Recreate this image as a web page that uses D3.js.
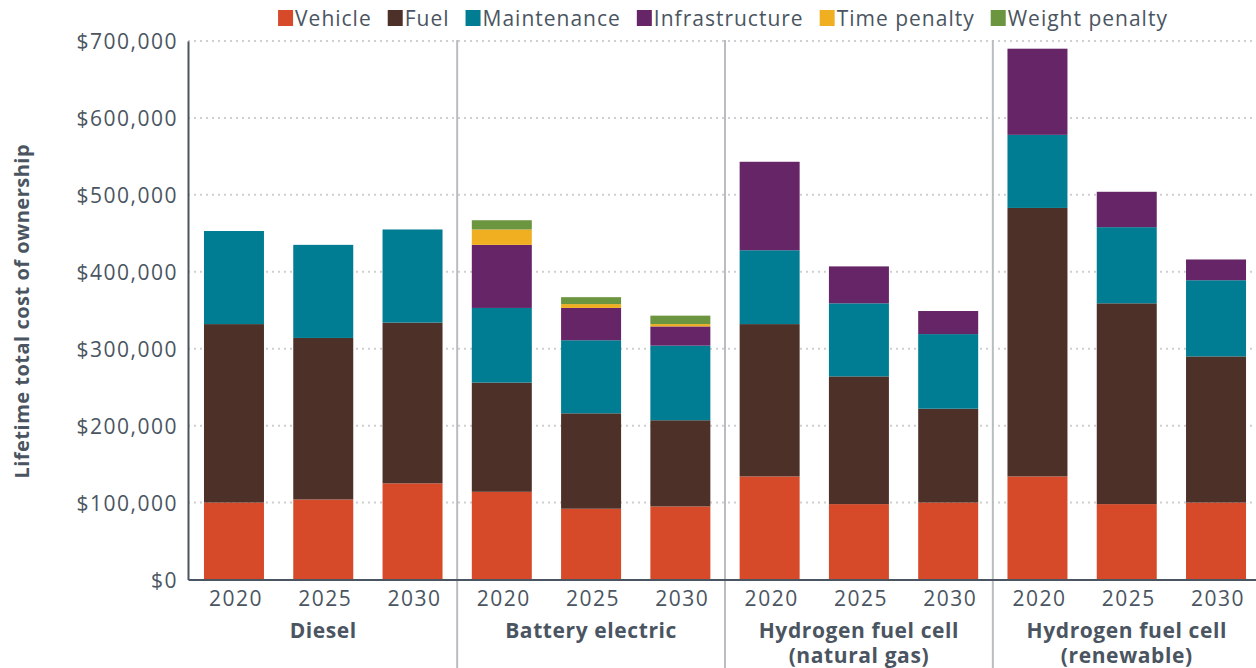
<!DOCTYPE html>
<html>
<head>
<meta charset="utf-8">
<script src="https://cdn.jsdelivr.net/npm/d3@7"></script>
<style>
  body { margin: 0; background: #fff; }
  svg text { font-family: "Open Sans", sans-serif; fill: #4a5561; }
  .tick-label { font-size: 21px; letter-spacing: 1.5px; }
  .cat-label { font-size: 21px; font-weight: 700; letter-spacing: 0.6px; }
  .legend text { font-size: 21px; letter-spacing: 1px; }
  .axis-title { font-size: 20px; font-weight: 700; letter-spacing: 0.5px; }
</style>
</head>
<body>
<svg id="tco-chart" width="1256" height="668"></svg>
<script>
//chart data (values in thousands of dollars)
var techs = ["Diesel", "Battery electric", "Hydrogen fuel cell\n(natural gas)", "Hydrogen fuel cell\n(renewable)"];
var years = ["2020", "2025", "2030"];
var components = ["Vehicle", "Fuel", "Maintenance", "Infrastructure", "Time penalty", "Weight penalty"];
var colors = ["#d64a29", "#4d3128", "#007d93", "#652566", "#f0ae21", "#6b963f"];
var yTicks = [0, 100000, 200000, 300000, 400000, 500000, 600000, 700000];

//one value per bar, in order Diesel 2020..2030, Battery.., H2 NG.., H2 renewable..
var vehicle        = [100, 104, 125, 114,  92,  95, 134,  98, 100, 134,  98, 100];
var fuel           = [232, 210, 209, 142, 124, 112, 198, 166, 122, 349, 261, 190];
var maintenance    = [121, 121, 121,  97,  95,  97,  96,  95,  97,  95,  99,  99];
var infrastructure = [  0,   0,   0,  82,  42,  25, 115,  48,  30, 112,  46,  27];
var timePenalty    = [  0,   0,   0,  20,   5,   3,   0,   0,   0,   0,   0,   0];
var weightPenalty  = [  0,   0,   0,  12,   9,  11,   0,   0,   0,   0,   0,   0];

function drawChart() {

  var svg = d3.select("#tco-chart"),
      margin = {top: 41, right: 0, bottom: 88.5, left: 188},
      width = svg.attr("width") - margin.left - margin.right,
      height = svg.attr("height") - margin.top - margin.bottom,
      g = svg.append("g").attr("transform", "translate(" + margin.left + "," + margin.top + ")");

  var series = [vehicle, fuel, maintenance, infrastructure, timePenalty, weightPenalty];

  //builds one row per bar
  var rows = [];
  techs.forEach(function(t, ti) {
    years.forEach(function(yr, yi) {
      var i = ti * years.length + yi;
      var row = {key: ti + "-" + yr, tech: ti, year: yr};
      components.forEach(function(c, ci) { row[c] = series[ci][i] * 1000; });
      rows.push(row);
    });
  });

  //band range runs a little past the right edge, as in the original
  var x = d3.scaleBand()
      .domain(rows.map(function(d) { return d.key; }))
      .range([0, width + 6])
      .paddingInner(0.328)
      .paddingOuter(0.179);

  var y = d3.scaleLinear().domain([0, 700000]).range([height, 0]);

  //dotted gridlines
  g.append("g").selectAll("line")
      .data(yTicks.slice(1))
      .enter().append("line")
      .attr("x1", 0).attr("x2", width)
      .attr("y1", function(d) { return y(d); })
      .attr("y2", function(d) { return y(d); })
      .attr("stroke", "#cfcfcf")
      .attr("stroke-width", 2)
      .attr("stroke-dasharray", "2,4");

  //stacked bars
  var stack = d3.stack().keys(components)(rows);
  g.append("g").selectAll("g")
      .data(stack)
      .enter().append("g")
      .attr("fill", function(d, i) { return colors[i]; })
      .selectAll("rect")
      .data(function(d) { return d; })
      .enter().append("rect")
      .attr("x", function(d) { return x(d.data.key); })
      .attr("width", x.bandwidth())
      .attr("y", function(d) { return y(d[1]); })
      .attr("height", function(d) { return Math.max(0, y(d[0]) - y(d[1])); });

  //group dividers
  var dividers = [];
  for (var t = 1; t < techs.length; t++) {
    var prev = rows[t * years.length - 1].key, next = rows[t * years.length].key;
    dividers.push((x(prev) + x.bandwidth() + x(next)) / 2);
  }
  g.append("g").selectAll("line")
      .data(dividers)
      .enter().append("line")
      .attr("x1", function(d) { return d; })
      .attr("x2", function(d) { return d; })
      .attr("y1", -1)
      .attr("y2", height + margin.bottom)
      .attr("stroke", "#b9bdc1")
      .attr("stroke-width", 2);

  //y axis
  var yAxis = g.append("g")
      .call(d3.axisLeft(y).tickValues(yTicks).tickSize(0).tickPadding(10)
        .tickFormat(function(d) { return "$" + d3.format(",")(d); }));
  yAxis.select(".domain").attr("stroke", "#4a5561").attr("stroke-width", 2);
  yAxis.selectAll("text").attr("class", "tick-label").attr("dy", "0.36em");

  //x axis
  var xAxis = g.append("g")
      .attr("transform", "translate(0," + height + ")")
      .call(d3.axisBottom(x).tickSize(0).tickPadding(11)
        .tickFormat(function(d) { return d.split("-")[1]; }));
  xAxis.select(".domain").attr("stroke", "#4a5561").attr("stroke-width", 2);
  xAxis.selectAll("text").attr("class", "tick-label").attr("dy", "0.75em").attr("dx", 2);

  //technology labels
  var catLabels = g.append("g").selectAll("text")
      .data(techs)
      .enter().append("text")
      .attr("class", "cat-label")
      .attr("text-anchor", "middle")
      .attr("x", function(d, i) {
        var a = x(rows[i * 3].key), b = x(rows[i * 3 + 2].key) + x.bandwidth();
        return (a + b) / 2;
      })
      .attr("y", height + 58);
  catLabels.each(function(d) {
    var el = d3.select(this);
    d.split("\n").forEach(function(line, li) {
      el.append("tspan")
        .attr("x", el.attr("x"))
        .attr("dy", li === 0 ? 0 : 25)
        .text(line);
    });
  });

  //y axis title
  svg.append("text")
      .attr("class", "axis-title")
      .attr("text-anchor", "middle")
      .attr("transform", "translate(29," + (margin.top + height / 2 + 1) + ") rotate(-90)")
      .text("Lifetime total cost of ownership");

  //legend
  var legend = svg.append("g").attr("class", "legend");
  var items = legend.selectAll("g")
      .data(components)
      .enter().append("g");
  items.append("rect")
      .attr("width", 15).attr("height", 16)
      .attr("y", 10)
      .attr("fill", function(d, i) { return colors[i]; });
  items.append("text")
      .attr("x", 17)
      .attr("y", 25.5)
      .text(function(d) { return d; });
  var pos = 0, offsets = [];
  items.each(function() {
    offsets.push(pos);
    pos += 17 + this.querySelector("text").getComputedTextLength() + 16;
  });
  var start = 723 - (pos - 16) / 2;
  items.attr("transform", function(d, i) { return "translate(" + (start + offsets[i]) + ",0)"; });
}

drawChart();
</script>
</body>
</html>
